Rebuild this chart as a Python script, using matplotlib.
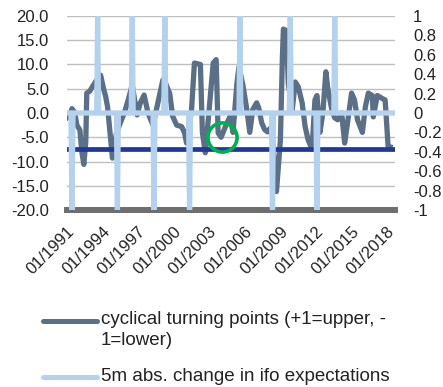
import matplotlib
matplotlib.use("Agg")
import matplotlib.pyplot as plt
from matplotlib.lines import Line2D
import numpy as np
import pandas as pd

# ---- data ----
ifo_dates = ["1990-08","1990-11","1991-01","1991-04","1991-06","1991-09","1991-11","1992-01","1992-03","1992-04",
             "1992-07","1992-10","1993-01","1993-06","1993-09","1993-11","1994-01","1994-04","1994-06","1994-10",
             "1995-02","1995-06","1995-10","1996-02","1996-05","1996-07","1996-10","1997-02","1997-06","1997-11",
             "1998-04","1998-09","1998-12","1999-04","1999-07","1999-11","2000-04","2000-07","2000-09","2000-12",
             "2001-02","2001-05","2001-11","2002-01","2002-04","2002-07","2002-12","2003-03","2003-05","2003-08",
             "2003-12","2004-05","2004-08","2004-12","2005-02","2005-06","2005-10","2006-01","2006-04","2006-08",
             "2006-10","2007-01","2007-04","2007-07","2007-11","2008-02","2008-04","2008-08","2008-10","2008-11",
             "2009-02","2009-04","2009-08","2009-11","2010-02","2010-06","2010-09","2010-12","2011-04","2011-07",
             "2011-09","2011-12","2012-03","2012-06","2012-08","2012-12","2013-03","2013-06","2013-10","2014-01",
             "2014-04","2014-08","2014-11","2015-02","2015-07","2015-10","2016-01","2016-05","2016-06","2016-10",
             "2017-03","2017-06","2017-09","2017-11"]
ifo_change = [-1.0, -0.5, 0.9, 0.0, -2.5, -3.5, -8.0, -10.6, -6.0, 4.1,
              4.5, 5.5, 6.5, 7.8, 5.0, 3.5, 1.3, -5.0, -9.3, -4.1,
              -2.0, 0.0, 2.7, 5.8, 2.0, -0.4, 2.0, 3.7, 0.0, -2.5,
              2.1, 6.8, 6.0, 4.0, -0.7, -2.5, -2.8, -4.1, -6.2, -2.0,
              0.7, 10.3, 10.0, -4.0, -8.2, -1.4, 10.3, 11.0, -4.1, -5.0,
              -3.0, -0.7, -4.0, 6.2, 9.5, 5.8, 0.7, -4.0, 0.7, 2.1,
              1.1, -2.0, -3.4, -3.9, -2.8, -11.0, -16.2, -5.5, 11.6, 17.3,
              17.0, 6.0, 0.7, 6.4, 5.4, 2.1, -2.8, -5.5, -7.5, 2.7,
              3.6, -4.0, 0.0, 8.5, 5.0, 0.7, -1.0, -1.4, 0.0, -6.2,
              -2.0, 4.1, 2.7, -1.4, -4.0, 1.3, 4.1, 3.6, -0.8, 3.6,
              3.0, 2.7, -6.9, -7.0]

turn_start, turn_end = "1990-08", "2018-04"
turn_dates = ["1991-01","1993-03","1994-11","1996-02","1997-12","1998-11",
              "2000-12","2005-03","2007-12","2009-06","2011-09","2013-03"]
turn_signs = [-1, 1, -1, 1, -1, 1, -1, 1, -1, 1, -1, 1]

threshold = -7.5
circle_date, circle_value = "2003-09", -5.0

tick_labels = ["01/1991","01/1994","01/1997","01/2000","01/2003",
               "01/2006","01/2009","01/2012","01/2015","01/2018"]

label_dark = "cyclical turning points (+1=upper, -\n1=lower)"
label_light = "5m abs. change in ifo expectations"

# ---- style ----
plt.rcParams['font.family'] = ['Liberation Sans', 'DejaVu Sans']
plt.rcParams['font.size'] = 12
c_dark = "#5b6f86"
c_light = "#b4d1ee"
c_navy = "#1f389a"
c_green = "#00b050"
c_grid = "#bfbfbf"
c_text = "#222222"

W, H = 443, 387
fig = plt.figure(figsize=(W/100, H/100), dpi=100)
L, R, T, B = 67, 395, 16, 210
ax = fig.add_axes([L/W, 1-B/H, (R-L)/W, (B-T)/H])
ax2 = ax.twinx()

x_dark = pd.to_datetime(ifo_dates)
months = pd.date_range(turn_start + "-01", turn_end + "-01", freq="MS")
turn = pd.Series(0.0, index=months)
turn[pd.to_datetime(turn_dates)] = turn_signs

ax.set_ylim(-20, 20)
ax.set_yticks(np.arange(-20, 20.1, 5))
ax.yaxis.set_major_formatter(matplotlib.ticker.FormatStrFormatter('%.1f'))
ax.grid(axis='y', color=c_grid, lw=1.0, zorder=0)
ax.set_axisbelow(True)

ax.axhline(-20, color="#6e6e6e", lw=4.3, zorder=1, clip_on=False)
ax.plot(x_dark, ifo_change, color=c_dark, lw=3.8, solid_joinstyle='round', zorder=3)
ax.axhline(threshold, color=c_navy, lw=3.4, zorder=4)
ax.plot(pd.to_datetime([circle_date]), [circle_value], marker='o', ms=21,
        mfc='none', mec=c_green, mew=2.6, zorder=6)

ax2.set_ylim(-1, 1)
ax2.set_yticks(np.round(np.arange(-1, 1.01, 0.2), 1))
ax2.yaxis.set_major_formatter(matplotlib.ticker.FuncFormatter(
    lambda v, p: f"{round(v, 1) + 0:g}"))
ax2.plot(turn.index, turn.values, color=c_light, lw=3.8, zorder=5)
ax2.set_zorder(ax.get_zorder() + 1)
ax2.patch.set_visible(False)

ax.set_xlim(months[0], months[-1])
tick_pos = [pd.Timestamp(f"{s[3:]}-{s[:2]}-01") for s in tick_labels]
ax.set_xticks(tick_pos)
ax.set_xticklabels(tick_labels, rotation=45, ha='right', va='center', rotation_mode='anchor')

for a in (ax, ax2):
    for s in a.spines.values():
        s.set_visible(False)
    a.tick_params(length=0, labelcolor=c_text)
ax.tick_params(axis='y', pad=13)
ax2.tick_params(axis='y', pad=13)
ax.tick_params(axis='x', pad=14)

# legend (manual)
def fx(px): return px / W
def fy(py): return 1 - py / H
fig.add_artist(Line2D([fx(43), fx(97)], [fy(321), fy(321)], color=c_dark, lw=3.6, solid_capstyle='round'))
fig.add_artist(Line2D([fx(43), fx(97)], [fy(377), fy(377)], color=c_light, lw=3.6, solid_capstyle='round'))
fig.text(fx(101), fy(311), label_dark, ha='left', va='top', color=c_text, fontsize=13.5, linespacing=1.3)
fig.text(fx(101), fy(376.5), label_light, ha='left', va='center', color=c_text, fontsize=13.5)

fig.savefig("out.png", dpi=100)
